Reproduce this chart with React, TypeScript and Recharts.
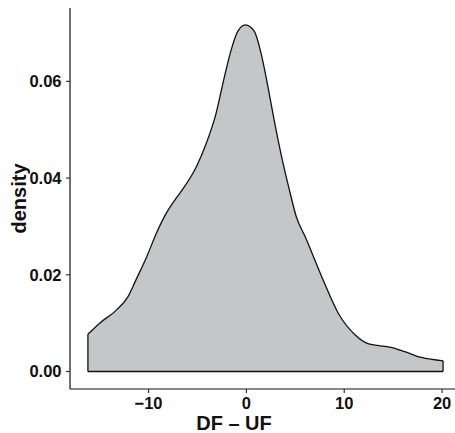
import {
  AreaChart, Area, XAxis, YAxis, ReferenceLine,
} from 'recharts'

// DF − UF values and their kernel density
const dfUf = [
  -16.2, -15.0, -13.3, -12.1, -11.3, -10.2, -9.2, -8.2, -7.3, -6.8,
  -5.1, -4.1, -3.1, -2.4, -1.6, -0.9, -0.1, 0.8, 1.5, 2.2,
  2.9, 3.6, 4.4, 5.1, 6.0, 7.7, 9.4, 11.1, 12.5, 14.8,
  16.2, 17.9, 20.1,
]
const density = [
  0.0077, 0.0100, 0.0127, 0.0155, 0.0189, 0.0237, 0.0286, 0.0327, 0.0355, 0.0369,
  0.0424, 0.0472, 0.0534, 0.0596, 0.0662, 0.0703, 0.0717, 0.0704, 0.0658, 0.0589,
  0.0513, 0.0444, 0.0375, 0.0320, 0.0279, 0.0196, 0.0120, 0.0076, 0.0057, 0.0050,
  0.0041, 0.0029, 0.0022,
]
const xTicks = [-10, 0, 10, 20]
const yTicks = [0, 0.02, 0.04, 0.06]

const data = dfUf.map((x, i) => ({ x, y: density[i] }))
const first = data[0]
const last = data[data.length - 1]

const FONT = '"Liberation Sans", Arial, Helvetica, sans-serif'
const tickStyle = { fontSize: 16.5, fontWeight: 700, fill: '#111', fontFamily: FONT }

const fmtX = (v: number) => (v < 0 ? `\u2212${Math.abs(v)}` : `${v}`)

function YTitle({ viewBox }: any) {
  const x = 26
  const y = viewBox.y + viewBox.height / 2
  return (
    <text x={x} y={y} transform={`rotate(-90 ${x} ${y})`} textAnchor="middle"
      fontSize={20} fontWeight={700} fontFamily={FONT} fill="#111">
      density
    </text>
  )
}

function XTitle() {
  return (
    <text x={234} y={430} textAnchor="middle"
      fontSize={20} fontWeight={700} fontFamily={FONT} fill="#111">
      DF – UF
    </text>
  )
}

export default function App() {
  return (
    <div style={{ position: 'absolute', left: 0, top: 0, background: '#fff' }}>
      <AreaChart width={455} height={433} data={data}
        margin={{ top: 8, right: 0, bottom: 0, left: 0 }}>
        <XAxis dataKey="x" type="number" domain={[-18.03, 21.32]} ticks={xTicks}
          tickFormatter={fmtX} allowDataOverflow
          height={44} tick={tickStyle} tickSize={4} tickMargin={4.5}
          stroke="#111" strokeWidth={1.2} tickLine={{ stroke: '#333' }}
          label={<XTitle />} />
        <YAxis type="number" domain={[-0.00362, 0.07518]} ticks={yTicks}
          tickFormatter={(v: number) => v.toFixed(2)} allowDataOverflow
          width={70} tick={tickStyle} tickSize={4} tickMargin={4.5}
          stroke="#111" strokeWidth={1.2} tickLine={{ stroke: '#333' }}
          label={<YTitle />} />
        <Area dataKey="y" type="monotone" baseValue={0} fill="#C5C6C8" fillOpacity={1}
          stroke="#111" strokeWidth={1.3} isAnimationActive={false} />
        <ReferenceLine segment={[{ x: first.x, y: 0 }, { x: last.x, y: 0 }]} stroke="#111" strokeWidth={1.3} />
        <ReferenceLine segment={[{ x: first.x, y: 0 }, { x: first.x, y: first.y }]} stroke="#111" strokeWidth={1.3} />
        <ReferenceLine segment={[{ x: last.x, y: 0 }, { x: last.x, y: last.y }]} stroke="#111" strokeWidth={1.3} />
      </AreaChart>
    </div>
  )
}
